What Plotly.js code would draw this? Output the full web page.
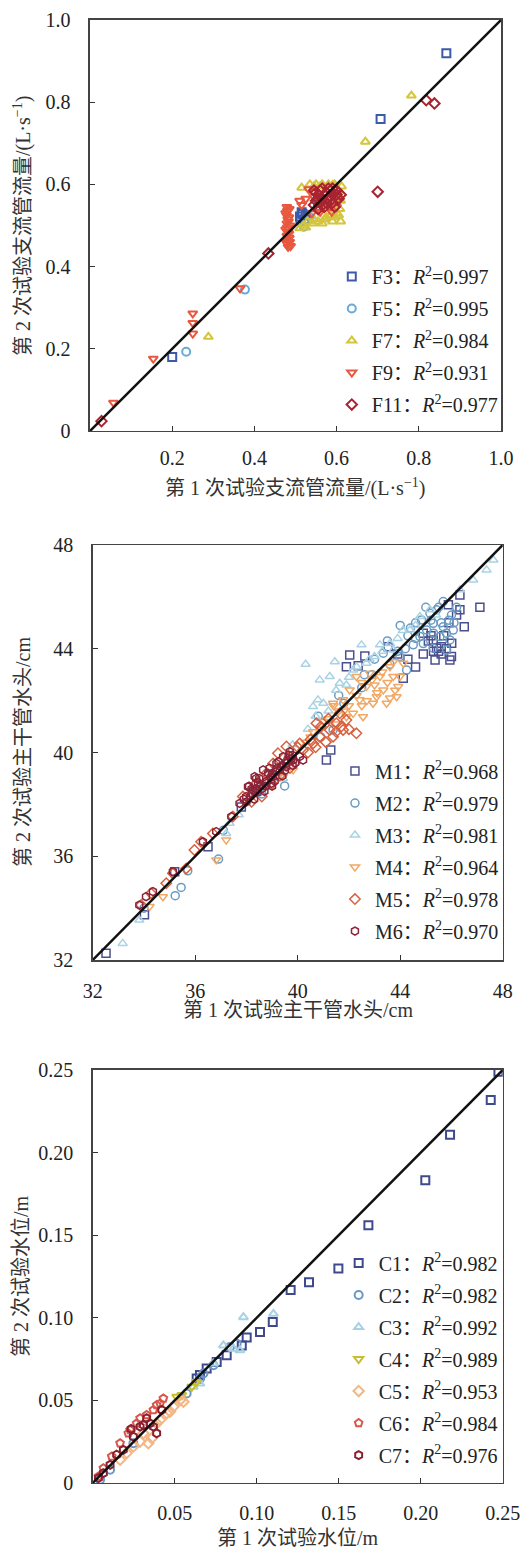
<!DOCTYPE html>
<html>
<head>
<meta charset="utf-8">
<script src="https://cdn.plot.ly/plotly-3.0.1.min.js"></script>
<style>html,body{margin:0;padding:0;background:#fff;}#chart{width:530px;height:1556px;}</style>
</head>
<body>
<div id="chart"></div>
<script>
// ---------- Panel 1: branch pipe flow (L/s) ----------
const F_names = ['F3', 'F5', 'F7', 'F9', 'F11'];
const F_r2 = ['0.997', '0.995', '0.984', '0.931', '0.977'];
const F3 = [[0.867,0.919],[0.707,0.759],[0.200,0.180],[0.511,0.522],[0.517,0.528],[0.522,0.515],[0.512,0.512],[0.525,0.525],[0.515,0.532]];
const F5 = [[0.377,0.344],[0.234,0.193],[0.520,0.497],[0.525,0.510],[0.535,0.520]];
const F7 = [[0.782,0.816],[0.670,0.704],[0.288,0.229],[0.515,0.592],[0.510,0.493],[0.542,0.505],[0.570,0.515],[0.595,0.520],[0.600,0.550],[0.600,0.590],[0.580,0.600],[0.550,0.600],[0.535,0.600],[0.530,0.510],[0.555,0.510],[0.585,0.525],[0.600,0.575],[0.560,0.595],[0.520,0.500],[0.590,0.598],[0.600,0.530],[0.545,0.595],[0.565,0.600],[0.595,0.600],[0.605,0.585],[0.610,0.560],[0.608,0.540],[0.605,0.525],[0.575,0.520],[0.545,0.515],[0.525,0.495],[0.565,0.505],[0.590,0.510],[0.612,0.595],[0.610,0.510]];
const F9 = [[0.057,0.069],[0.154,0.176],[0.250,0.286],[0.250,0.263],[0.250,0.237],[0.365,0.347],[0.479,0.545],[0.480,0.535],[0.478,0.525],[0.481,0.515],[0.479,0.505],[0.480,0.495],[0.482,0.485],[0.479,0.475],[0.481,0.465],[0.480,0.455],[0.482,0.448],[0.485,0.540],[0.484,0.520],[0.486,0.500],[0.484,0.480],[0.486,0.460],[0.483,0.510],[0.485,0.470],[0.476,0.530],[0.476,0.490],[0.477,0.460],[0.488,0.450],[0.515,0.550],[0.532,0.588],[0.560,0.533],[0.588,0.533],[0.545,0.570],[0.570,0.560],[0.600,0.545],[0.525,0.565],[0.555,0.545],[0.590,0.580],[0.510,0.560],[0.540,0.530],[0.600,0.560]];
const F11 = [[0.028,0.024],[0.434,0.432],[0.700,0.582],[0.818,0.805],[0.838,0.797],[0.545,0.585],[0.555,0.575],[0.565,0.565],[0.575,0.580],[0.585,0.570],[0.560,0.555],[0.570,0.545],[0.590,0.555],[0.550,0.560],[0.580,0.590],[0.600,0.575],[0.545,0.550],[0.565,0.590],[0.550,0.580],[0.560,0.585],[0.570,0.575],[0.580,0.565],[0.590,0.575],[0.600,0.585],[0.605,0.565],[0.595,0.545],[0.575,0.555],[0.555,0.565],[0.585,0.585],[0.565,0.550],[0.610,0.575],[0.555,0.540],[0.590,0.590]];
const F_data = [F3, F5, F7, F9, F11];
const F_colors = ['#3d5aa8', '#6aaad8', '#d4c53a', '#e8583e', '#a82430'];
const F_symbols = ['square-open', 'circle-open', 'triangle-up-open', 'triangle-down-open', 'diamond-open'];
const F_line = [0, 1];
const F_ticks = [0, 0.2, 0.4, 0.6, 0.8, 1.0];
const F_yticktext = ['0', '0.2', '0.4', '0.6', '0.8', '1.0'];
const F_xticks = [0.2, 0.4, 0.6, 0.8, 1.0];
const F_xticktext = ['0.2', '0.4', '0.6', '0.8', '1.0'];

// ---------- Panel 2: main pipe head (cm) ----------
const M_names = ['M1', 'M2', 'M3', 'M4', 'M5', 'M6'];
const M_r2 = ['0.968', '0.979', '0.981', '0.964', '0.978', '0.970'];
const M1 = [[32.52,32.26],[34.02,33.74],[36.50,36.37],[41.12,39.71],[41.29,40.10],[41.90,43.31],[42.36,43.34],[42.62,43.72],[43.53,44.08],[44.12,42.86],[45.36,43.57],[45.94,43.57],[46.01,44.21],[46.33,45.50],[46.33,46.07],[47.11,45.60],[46.50,44.85],[45.60,44.08],[45.88,45.70],[45.42,44.02],[42.03,43.76],[45.29,44.34],[45.50,43.90],[45.10,44.30],[44.90,44.60],[45.70,44.50],[38.40,38.50],[39.20,39.10],[37.80,37.90],[35.20,35.40],[44.60,43.30],[43.90,43.80],[45.60,43.80],[45.30,43.90],[45.80,44.00],[44.90,43.80],[46.20,45.30],[45.90,45.00],[45.20,44.50],[46.00,43.70],[44.30,43.60]];
const M2 = [[45.42,45.50],[46.00,45.30],[46.07,44.72],[45.68,44.85],[45.29,44.98],[45.55,44.47],[45.94,44.34],[45.03,44.72],[44.77,44.47],[44.51,44.15],[45.81,43.95],[45.29,44.02],[45.16,45.37],[44.83,45.11],[45.68,45.82],[43.99,43.70],[44.25,43.18],[43.34,43.83],[39.49,38.71],[36.91,35.89],[35.22,34.48],[35.45,34.80],[35.71,35.44],[41.38,40.87],[42.90,43.00],[43.60,43.40],[44.30,44.50],[44.00,44.90],[45.90,45.10],[46.20,45.60],[45.00,45.60],[44.60,45.00],[42.50,42.50],[41.80,41.90],[40.90,40.60],[38.60,38.40],[34.00,34.00],[37.10,37.00],[45.20,45.10],[45.60,45.00],[45.80,44.60],[44.90,44.20],[45.30,44.60],[44.60,44.40],[44.20,44.00],[43.90,43.90],[46.10,45.00],[45.50,45.60],[44.40,44.80],[43.50,44.30],[43.00,43.60],[42.60,43.00],[41.60,42.20],[40.80,41.40]];
const M3 = [[40.31,43.40],[42.49,44.15],[41.45,43.50],[41.25,42.93],[40.86,42.80],[40.60,41.77],[40.79,42.03],[41.64,42.67],[42.16,43.18],[42.68,43.44],[43.21,44.15],[43.73,43.95],[44.38,44.72],[44.77,45.24],[45.16,45.50],[46.33,46.27],[46.85,46.65],[47.37,47.04],[47.64,47.42],[37.21,36.88],[37.34,37.27],[33.82,33.54],[33.17,32.64],[39.43,39.00],[43.00,43.70],[42.30,43.30],[41.90,42.60],[41.00,41.90],[40.70,41.40],[43.90,44.40],[44.60,44.90],[45.40,45.30],[41.50,42.40],[42.00,42.90],[42.80,43.60],[43.30,43.90],[43.60,44.20],[44.10,44.70],[40.40,40.90],[41.20,41.60],[39.80,40.30],[37.70,37.60],[38.80,39.10]];
const M4 = [[43.86,42.15],[43.92,42.54],[43.73,42.93],[43.21,42.93],[43.34,42.41],[42.68,42.54],[42.94,41.90],[42.42,42.03],[42.16,41.51],[42.55,41.38],[42.03,42.41],[41.77,42.03],[41.38,41.90],[41.90,41.38],[43.47,41.90],[43.08,42.15],[43.60,43.31],[44.12,43.44],[43.73,43.50],[43.99,42.93],[42.81,43.06],[42.29,42.93],[36.82,35.86],[37.21,36.63],[34.74,34.44],[34.22,34.06],[39.43,39.07],[39.82,39.33],[41.00,41.20],[40.60,40.80],[42.50,41.80],[43.00,42.60],[41.60,41.60],[40.30,40.40],[41.20,41.30],[41.50,41.10],[42.00,41.80],[42.30,42.20],[42.70,42.00],[43.10,42.30],[43.50,42.70],[43.80,42.40],[42.90,42.80],[42.50,42.70],[41.80,41.60],[43.30,43.10],[43.60,42.10],[40.90,40.90],[40.50,40.60],[41.40,41.80]];
const M5 = [[42.29,40.74],[41.90,41.25],[41.51,41.13],[41.25,40.87],[40.86,40.61],[41.38,40.61],[40.60,40.35],[40.21,40.10],[39.69,39.84],[39.23,39.97],[39.56,40.23],[39.04,39.58],[38.78,39.20],[38.38,38.81],[37.86,38.30],[37.47,37.53],[36.69,36.88],[36.23,36.56],[35.97,36.24],[35.65,35.53],[35.13,35.34],[34.87,34.96],[34.28,34.57],[33.89,34.12],[41.64,41.51],[40.73,41.13],[40.08,40.35],[41.77,40.87],[40.40,40.00],[39.90,39.60],[39.30,39.10],[38.60,38.30],[41.10,40.40],[40.90,41.00],[40.00,40.20],[40.50,40.50],[41.50,40.80],[42.00,40.90],[41.70,41.00],[39.70,39.40],[39.00,38.80],[38.20,38.10],[40.70,40.20],[41.20,41.30]];
const M6 = [[37.73,38.04],[37.99,38.30],[38.25,38.56],[38.51,38.68],[38.32,39.07],[38.78,38.81],[39.04,39.07],[39.30,39.33],[39.56,39.58],[39.82,39.71],[40.08,39.84],[38.65,39.33],[39.17,39.58],[39.43,39.84],[39.69,40.03],[38.97,38.81],[38.06,38.68],[37.41,37.53],[36.82,36.95],[36.30,36.56],[35.13,35.41],[34.35,34.64],[33.82,34.12],[34.08,34.44],[40.21,39.71],[38.38,39.00],[38.00,38.10],[38.20,38.40],[38.40,38.60],[38.60,38.60],[38.80,38.90],[39.00,39.20],[39.20,39.40],[39.40,39.50],[39.60,39.70],[39.80,39.90],[38.30,38.20],[38.70,38.50],[39.10,38.90],[39.50,39.30],[39.90,39.60],[38.10,38.70],[38.50,39.00],[38.90,39.40],[37.90,38.20],[38.15,38.30],[38.35,38.45],[38.55,38.75],[38.75,38.70],[38.95,39.05],[39.15,39.25],[39.35,39.45],[39.55,39.45],[39.75,39.75],[38.45,38.85],[38.85,39.20],[39.25,39.65],[39.65,39.90],[38.20,38.60],[39.00,38.70],[39.40,39.10],[39.80,39.50]];
const M_data = [M1, M2, M3, M4, M5, M6];
const M_colors = ['#4b4f8f', '#6a9bc3', '#a9d3e3', '#f2a865', '#d8623f', '#8b2339'];
const M_symbols = ['square-open', 'circle-open', 'triangle-up-open', 'triangle-down-open', 'diamond-open', 'hexagon-open'];
const M_line = [32, 48];
const M_ticks = [32, 36, 40, 44, 48];

// ---------- Panel 3: water level (m) ----------
const C_names = ['C1', 'C2', 'C3', 'C4', 'C5', 'C6', 'C7'];
const C_r2 = ['0.982', '0.982', '0.992', '0.989', '0.953', '0.984', '0.976'];
const C1 = [[0.2427,0.2319],[0.2179,0.2108],[0.2028,0.1833],[0.1681,0.1560],[0.1498,0.1299],[0.1319,0.1215],[0.1207,0.1169],[0.1098,0.0974],[0.1020,0.0914],[0.0939,0.0880],[0.0909,0.0833],[0.0817,0.0773],[0.0756,0.0733],[0.0695,0.0693],[0.0654,0.0653],[0.0634,0.0633],[0.2474,0.2490]];
const C2 = [[0.0837,0.0823],[0.0878,0.0843],[0.0654,0.0633],[0.0675,0.0663],[0.0736,0.0713],[0.0573,0.0542],[0.0248,0.0241],[0.0106,0.0080],[0.0045,0.0020]];
const C3 = [[0.0919,0.1004],[0.1102,0.1024],[0.0797,0.0833],[0.0858,0.0813],[0.0898,0.0803],[0.0736,0.0723],[0.0654,0.0602],[0.0614,0.0582]];
const C4 = [[0.0604,0.0582],[0.0634,0.0612],[0.0512,0.0522],[0.0543,0.0532]];
const C5 = [[0.0553,0.0492],[0.0533,0.0502],[0.0492,0.0462],[0.0451,0.0422],[0.0411,0.0382],[0.0339,0.0241],[0.0360,0.0271],[0.0289,0.0251],[0.0248,0.0221],[0.0207,0.0181],[0.0167,0.0141],[0.0390,0.0361],[0.0472,0.0432],[0.0309,0.0301]];
const C6 = [[0.0431,0.0512],[0.0390,0.0472],[0.0329,0.0412],[0.0268,0.0361],[0.0217,0.0301],[0.0167,0.0241],[0.0116,0.0161],[0.0065,0.0090],[0.0035,0.0040],[0.0228,0.0321],[0.0289,0.0392],[0.0370,0.0442],[0.0411,0.0482]];
const C7 = [[0.0234,0.0327],[0.0390,0.0301],[0.0370,0.0341],[0.0309,0.0351],[0.0329,0.0392],[0.0248,0.0281],[0.0187,0.0201],[0.0146,0.0171],[0.0106,0.0110],[0.0065,0.0060],[0.0035,0.0030],[0.0289,0.0341],[0.0350,0.0361],[0.0421,0.0442]];
const C_data = [C1, C2, C3, C4, C5, C6, C7];
const C_colors = ['#3f4a8c', '#6a98c4', '#a8d2e4', '#c8be2e', '#f3b684', '#d9574a', '#8a1f30'];
const C_symbols = ['square-open', 'circle-open', 'triangle-up-open', 'triangle-down-open', 'diamond-open', 'pentagon-open', 'hexagon-open'];
const C_line = [0, 0.25];
const C_ticks = [0, 0.05, 0.10, 0.15, 0.20, 0.25];
const C_yticktext = ['0', '0.05', '0.10', '0.15', '0.20', '0.25'];
const C_xticks = [0.05, 0.10, 0.15, 0.20, 0.25];
const C_xticktext = ['0.05', '0.10', '0.15', '0.20', '0.25'];

// ---------- Titles ----------
const titles = {
  x1: '第 1 次试验支流管流量/(L·s<sup>−1</sup>)',
  y1: '第 2 次试验支流管流量/(L·s<sup>−1</sup>)',
  x2: '第 1 次试验主干管水头/cm',
  y2: '第 2 次试验主干管水头/cm',
  x3: '第 1 次试验水位/m',
  y3: '第 2 次试验水位/m'
};

const FONT = '"Liberation Serif", "Times New Roman", "Noto Sans CJK SC", serif';
const TITLE_FONT = {family: FONT, size: 20, color: '#333'};
const traces = [];

function addPanel(data, names, r2, colors, symbols, xa, ya, legendId, size, lw, lineLim) {
  data.forEach((pts, i) => {
    traces.push({
      type: 'scatter', mode: 'markers',
      x: pts.map(p => p[0]), y: pts.map(p => p[1]),
      xaxis: xa, yaxis: ya,
      name: names[i] + '：<i>R</i><sup>2</sup>=' + r2[i],
      legend: legendId, legendgroup: legendId + names[i],
      marker: {symbol: symbols[i], size: size, color: colors[i], line: {color: colors[i], width: lw}},
      hoverinfo: 'x+y'
    });
  });
  traces.push({
    type: 'scatter', mode: 'lines', x: lineLim, y: lineLim, xaxis: xa, yaxis: ya,
    showlegend: false, line: {color: '#111', width: 2.5}, hoverinfo: 'skip'
  });
}

addPanel(F_data, F_names, F_r2, F_colors, F_symbols, 'x', 'y', 'legend', 8, 2, F_line);
addPanel(M_data, M_names, M_r2, M_colors, M_symbols, 'x2', 'y2', 'legend2', 8, 1.5, M_line);
addPanel(C_data, C_names, C_r2, C_colors, C_symbols, 'x3', 'y3', 'legend3', 8, 2, C_line);

function axis(domain, range, tickvals, ticktext, anchor, labelStandoff) {
  return {
    domain: domain, range: range, anchor: anchor,
    tickmode: 'array', tickvals: tickvals, ticktext: ticktext,
    ticks: 'inside', ticklen: 5, tickwidth: 1, tickcolor: '#333',
    showline: true, linecolor: '#444', linewidth: 1.5, mirror: true,
    showgrid: false, zeroline: false, automargin: false,
    tickfont: {family: FONT, size: 20, color: '#222'},
    ticklabelstandoff: labelStandoff,
    title: {text: ''}
  };
}

function legend(x, y) {
  return {
    x: x, y: y, xanchor: 'left', yanchor: 'top', xref: 'paper', yref: 'paper',
    bgcolor: 'rgba(0,0,0,0)', borderwidth: 0,
    font: {family: FONT, size: 20, color: '#222'},
    traceorder: 'grouped', tracegroupgap: 3, itemwidth: 30
  };
}

function axTitle(text, x, y, angle) {
  return {text: text, xref: 'paper', yref: 'paper', x: x, y: y, xanchor: 'center', yanchor: 'middle',
          textangle: angle, showarrow: false, font: TITLE_FONT};
}

const layout = {
  width: 530, height: 1556,
  margin: {l: 0, r: 0, t: 0, b: 0},
  paper_bgcolor: '#fff', plot_bgcolor: '#fff',
  showlegend: true,
  xaxis: axis([0.1698, 0.9453], [0, 1], F_xticks, F_xticktext, 'y', 9),
  yaxis: axis([0.72301, 0.98715], [0, 1], F_ticks, F_yticktext, 'x', 14),
  xaxis2: axis([0.1749, 0.9485], [32, 48], M_ticks, M_ticks.map(String), 'y2', 12),
  yaxis2: axis([0.38303, 0.64974], [32, 48], M_ticks, M_ticks.map(String), 'x2', 14),
  xaxis3: axis([0.1749, 0.9485], [0, 0.25], C_xticks, C_xticktext, 'y3', 12),
  yaxis3: axis([0.04692, 0.31234], [0, 0.25], C_ticks, C_yticktext, 'x3', 14),
  legend: legend(0.626, 0.8348),
  legend2: legend(0.632, 0.5170),
  legend3: legend(0.639, 0.2008),
  annotations: [
    axTitle(titles.x1, 0.5575, 0.6864, 0),
    axTitle(titles.y1, 0.0415, 0.8547, -90),
    axTitle(titles.x2, 0.5623, 0.3509, 0),
    axTitle(titles.y2, 0.0434, 0.5167, -90),
    axTitle(titles.x3, 0.5623, 0.01157, 0),
    axTitle(titles.y3, 0.0396, 0.1799, -90)
  ]
};

Plotly.newPlot('chart', traces, layout, {displayModeBar: false, staticPlot: true});
</script>
</body>
</html>
